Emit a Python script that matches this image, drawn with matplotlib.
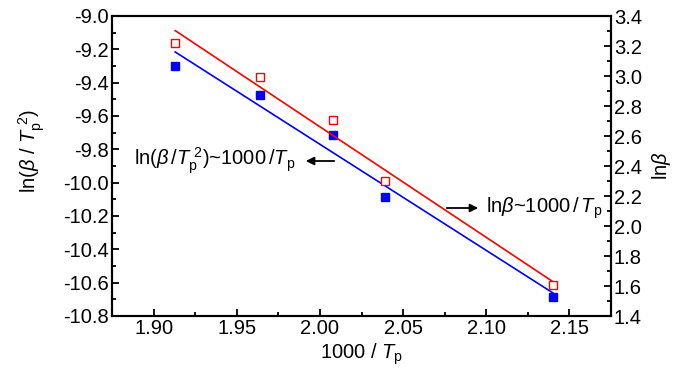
import matplotlib
matplotlib.use("Agg")
import matplotlib.pyplot as plt
from matplotlib.ticker import MultipleLocator
import numpy as np

plt.rcParams['font.family'] = ['Liberation Sans', 'DejaVu Sans']
plt.rcParams['mathtext.fontset'] = 'custom'
plt.rcParams['mathtext.rm'] = 'Liberation Sans'
plt.rcParams['mathtext.it'] = 'Liberation Sans:italic'
plt.rcParams['mathtext.default'] = 'regular'

# data
inv_tp = [1.913, 1.964, 2.008, 2.039, 2.140]          # 1000 / Tp
ln_beta_tp2 = [-9.30, -9.474, -9.714, -10.084, -10.684]  # ln(beta / Tp^2)
ln_beta = [3.219, 2.996, 2.708, 2.303, 1.609]          # ln(beta)

x_ticks = [1.90, 1.95, 2.00, 2.05, 2.10, 2.15]
left_ticks = [-9.0, -9.2, -9.4, -9.6, -9.8, -10.0, -10.2, -10.4, -10.6, -10.8]
right_ticks = [3.4, 3.2, 3.0, 2.8, 2.6, 2.4, 2.2, 2.0, 1.8, 1.6, 1.4]

FS = 14.5

fig = plt.figure(figsize=(7.0, 3.74), dpi=100)
ax1 = fig.add_axes([112 / 700, 1 - 316 / 374, 499 / 700, 300 / 374])
ax2 = ax1.twinx()

# linear fits
xs = np.array([inv_tp[0], inv_tp[-1]])
p1 = np.polyfit(inv_tp, ln_beta_tp2, 1)
p2 = np.polyfit(inv_tp, ln_beta, 1)

ax1.plot(xs, np.polyval(p1, xs), color='#0000ff', lw=1.2, zorder=2)
ax1.plot(inv_tp, ln_beta_tp2, 's', color='#0000ff', ms=6, zorder=3)

ax2.plot(xs, np.polyval(p2, xs), color='#ff0000', lw=1.2, zorder=2)
ax2.plot(inv_tp, ln_beta, 's', mfc='white', mec='#ff0000', mew=1.0, ms=6, zorder=3)

ax1.set_xlim(1.875, 2.175)
ax1.set_ylim(-10.8, -9.0)
ax2.set_ylim(1.4, 3.4)

ax1.set_xticks(x_ticks)
ax1.set_xticklabels(['%.2f' % v for v in x_ticks])
ax1.set_yticks(left_ticks)
ax1.set_yticklabels(['%.1f' % v for v in left_ticks])
ax2.set_yticks(right_ticks)
ax2.set_yticklabels(['%.1f' % v for v in right_ticks])
ax1.xaxis.set_minor_locator(MultipleLocator(0.025))
ax1.yaxis.set_minor_locator(MultipleLocator(0.1))
ax2.yaxis.set_minor_locator(MultipleLocator(0.1))

for ax in (ax1, ax2):
    for s in ax.spines.values():
        s.set_linewidth(1.5)
ax1.tick_params(axis='both', which='major', direction='in', length=5, width=1.3,
                labelsize=FS, pad=2, top=False)
ax1.tick_params(axis='both', which='minor', direction='in', length=3, width=1.3, top=False)
ax2.tick_params(axis='y', which='major', direction='in', length=5, width=1.3,
                labelsize=FS, pad=2)
ax2.tick_params(axis='y', which='minor', direction='in', length=3, width=1.3)

ax1.set_xlabel(r'1000 / $\mathit{T}_{\rm p}$', fontsize=FS, labelpad=3)
ax1.set_ylabel(r'ln($\mathit{\beta}$ / $\mathit{T}_{\rm p}^{\ 2}$)', fontsize=FS, labelpad=3)
ax1.yaxis.set_label_coords(-0.13, 0.55)
ax2.set_ylabel(r'ln$\mathit{\beta}$', fontsize=FS, labelpad=6)

ax1.annotate('', xy=(303, 374 - 161), xycoords='figure pixels',
             xytext=(337, 374 - 161), textcoords='figure pixels',
             arrowprops=dict(arrowstyle='-|>', color='black', lw=1.3, mutation_scale=12))
fig.text(134 / 700, 1 - 161 / 374,
         r'ln($\mathit{\beta}$$\,$/$\mathit{T}_{\rm p}^{\ 2}$)~1000$\,$/$\mathit{T}_{\rm p}$',
         fontsize=FS, ha='left', va='center')

ax1.annotate('', xy=(481, 374 - 208), xycoords='figure pixels',
             xytext=(444, 374 - 208), textcoords='figure pixels',
             arrowprops=dict(arrowstyle='-|>', color='black', lw=1.3, mutation_scale=12))
fig.text(486 / 700, 1 - 208 / 374,
         r'ln$\mathit{\beta}$~1000$\,$/$\,$$\mathit{T}_{\rm p}$',
         fontsize=FS, ha='left', va='center')

fig.savefig('out.png', dpi=100)
